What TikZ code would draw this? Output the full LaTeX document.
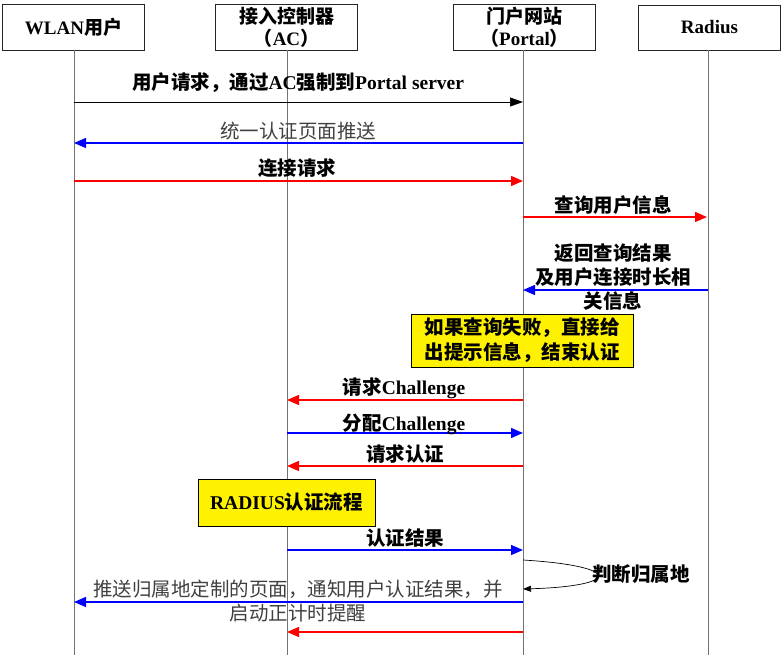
\documentclass[tikz,border=0pt]{standalone}
\usepackage{fontspec}
\setmainfont{Liberation Serif}
\newfontfamily\cjk{Noto Sans CJK SC}
\usetikzlibrary{arrows.meta}
\newcommand{\zh}[1]{{\cjk #1}}
\begin{document}
\begin{tikzpicture}[x=1pt,y=-1pt,
  hdr/.style={draw=black!85, line width=0.8pt, minimum width=142pt, minimum height=46pt,
    font=\bfseries\fontsize{19}{22}\selectfont, align=center, inner sep=0pt},
  life/.style={draw=black!55, line width=0.8pt},
  msg/.style={line width=1.4pt, -{Triangle[length=12pt,width=10pt]}},
  bmsg/.style={line width=0.7pt, black, -{Triangle[length=13pt,width=9pt]}},
  lbl/.style={font=\bfseries\fontsize{19.5}{24}\selectfont, align=center, inner sep=0pt},
  nlbl/.style={font=\fontsize{19.5}{24}\selectfont, text=black!75, align=center, inner sep=0pt},
  note/.style={draw=black, fill=yellow, line width=0.8pt, inner sep=0pt,
    font=\bfseries\fontsize{19.5}{25}\selectfont, align=center}
]
\useasboundingbox (0,0) rectangle (782,655);

% headers
\node[hdr] (h1) at (73.5,27) {WLAN\zh{用户}};
\node[hdr] (h2) at (286.5,27) {\zh{接入控制器}\\\zh{（}AC\zh{）}};
\node[hdr] (h3) at (524.5,27) {\zh{门户网站}\\\zh{（}Portal\zh{）}};
\node[hdr, minimum height=45pt] (h4) at (709.5,27.5) {Radius};

% lifeline ends
\coordinate (e1) at (74,655);
\coordinate (e2) at (287,655);
\coordinate (e3) at (523,655);
\coordinate (e4) at (708,655);
\draw[life] (h1.south -| e1) -- (e1);
\draw[life] (h2.south -| e2) -- (e2);
\draw[life] (h3.south -| e3) -- (e3);
\draw[life] (h4.south -| e4) -- (e4);

% message end points
\coordinate (u1) at (74,102);  \coordinate (p1) at (523,102);
\coordinate (u2) at (74,143);  \coordinate (p2) at (523,143);
\coordinate (u3) at (74,181);  \coordinate (p3) at (523,181);
\coordinate (p4) at (523,217); \coordinate (r4) at (707,217);
\coordinate (p5) at (523,290); \coordinate (r5) at (708,290);
\coordinate (a7) at (287,400); \coordinate (p7) at (523,400);
\coordinate (a8) at (287,433); \coordinate (p8) at (523,433);
\coordinate (a9) at (287,466); \coordinate (p9) at (523,466);
\coordinate (a11) at (287,550); \coordinate (p11) at (523,550);
\coordinate (s1) at (523,560); \coordinate (s2) at (523,589);
\coordinate (u13) at (74,602); \coordinate (p13) at (523,602);
\coordinate (a14) at (287,632); \coordinate (p14) at (523,632);

% messages
\draw[bmsg] (u1) -- (p1);
\node[lbl] (t1) at (298,83) {\zh{用户请求，通过}AC\zh{强制到}Portal server};

\draw[msg, blue] (p2) -- (u2);
\node[nlbl] (t2) at (298,131) {\zh{统一认证页面推送}};

\draw[msg, red] (u3) -- (p3);
\node[lbl] (t3) at (297,168) {\zh{连接请求}};

\draw[msg, red] (p4) -- (r4);
\node[lbl] (t4) at (613,205) {\zh{查询用户信息}};

\draw[msg, blue] (r5) -- (p5);
\node[lbl] (t5) at (613,277) {\zh{返回查询结果}\\\zh{及用户连接时长相}\\\zh{关信息}};

\node[note, minimum width=222pt, minimum height=53pt] (n1) at (522,340.5)
  {\zh{如果查询失败，直接给}\\\zh{出提示信息，结束认证}};

\draw[msg, red] (p7) -- (a7);
\node[lbl] (t7) at (404,388) {\zh{请求}Challenge};

\draw[msg, blue] (a8) -- (p8);
\node[lbl] (t8) at (404,424) {\zh{分配}Challenge};

\draw[msg, red] (p9) -- (a9);
\node[lbl] (t9) at (405,454) {\zh{请求认证}};

\node[note, minimum width=177pt, minimum height=47pt] (n2) at (286.5,502.5)
  {RADIUS\zh{认证流程}};

\draw[msg, blue] (a11) -- (p11);
\node[lbl] (t11) at (405,538) {\zh{认证结果}};

\draw[line width=0.7pt, black, -{Triangle[length=8pt,width=6pt]}]
  (s1) .. controls (622,566) and (622,586) .. (s2);
\node[lbl] (t12) at (641,574) {\zh{判断归属地}};

\draw[msg, blue] (p13) -- (u13);
\node[nlbl] (t13) at (298,601) {\zh{推送归属地定制的页面，通知用户认证结果，并}\\\zh{启动正计时提醒}};

\draw[msg, red] (p14) -- (a14);
\end{tikzpicture}
\end{document}
